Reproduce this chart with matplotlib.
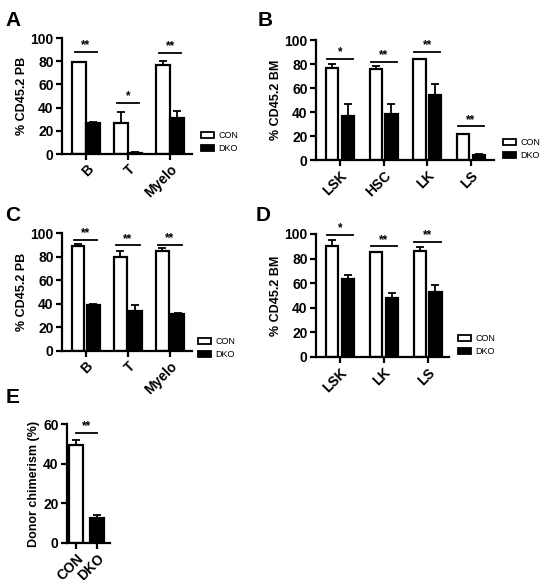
import matplotlib
matplotlib.use("Agg")
import matplotlib.pyplot as plt
from matplotlib.patches import Patch
import numpy as np

plt.rcParams["font.family"] = ["Liberation Sans", "DejaVu Sans"]

# panel A: % CD45.2 in peripheral blood
a_groups = ["B", "T", "Myelo"]
a_con = [79, 27, 77]
a_con_err = [0.5, 9, 3]
a_dko = [27, 1, 31]
a_dko_err = [0.5, 0.3, 6]
a_sig = ["**", "*", "**"]
a_sig_y = [88, 44, 87]

# panel B: % CD45.2 in bone marrow
b_groups = ["LSK", "HSC", "LK", "LS"]
b_con = [77, 76, 84, 21.5]
b_con_err = [3, 2, 0.5, 0.5]
b_dko = [36.5, 38, 54, 4.5]
b_dko_err = [10, 9, 9, 0.5]
b_sig = ["*", "**", "**", "**"]
b_sig_y = [84, 82, 90, 28]

# panel C: % CD45.2 PB (second transplant)
c_groups = ["B", "T", "Myelo"]
c_con = [89, 80, 84.5]
c_con_err = [1.5, 4.5, 2.5]
c_dko = [39, 33.5, 31]
c_dko_err = [0.8, 5.5, 1]
c_sig = ["**", "**", "**"]
c_sig_y = [94, 89.5, 90]

# panel D: % CD45.2 BM (second transplant)
d_groups = ["LSK", "LK", "LS"]
d_con = [90.5, 85, 86.5]
d_con_err = [4.5, 0.6, 3]
d_dko = [63.5, 48, 52.5]
d_dko_err = [3.5, 4, 6]
d_sig = ["*", "**", "**"]
d_sig_y = [99, 90, 93.5]

# panel E: donor chimerism
e_labels = ["CON", "DKO"]
e_vals = [49.5, 12.5]
e_err = [2.5, 1.5]

FS = 10
LW = 1.6


def style_axis(ax, ylabel, ymax, ystep):
    for s in ["top", "right"]:
        ax.spines[s].set_visible(False)
    for s in ["left", "bottom"]:
        ax.spines[s].set_linewidth(LW)
    ax.set_ylim(0, ymax)
    ax.set_yticks(np.arange(0, ymax + 1, ystep))
    ax.tick_params(width=LW, length=4, labelsize=FS, pad=2)
    for lab in ax.get_yticklabels():
        lab.set_fontweight("bold")
    ax.set_ylabel(ylabel, fontsize=9, fontweight="bold", labelpad=2)


def grouped(ax, groups, con, con_err, dko, dko_err, sig, sig_y, xlim,
            ylabel, w=0.3, off=0.18, half=0.3):
    x = np.arange(len(groups))
    ax.bar(x - off, con, w, color="white", edgecolor="black", linewidth=LW, zorder=2)
    ax.bar(x + off, dko, w, color="black", edgecolor="black", linewidth=LW, zorder=2)
    ax.errorbar(x - off, con, yerr=[np.zeros(len(x)), con_err], fmt="none",
                ecolor="black", elinewidth=1.3, capsize=3, capthick=1.3, zorder=3)
    ax.errorbar(x + off, dko, yerr=[np.zeros(len(x)), dko_err], fmt="none",
                ecolor="black", elinewidth=1.3, capsize=3, capthick=1.3, zorder=3)
    for xi, s, yy in zip(x, sig, sig_y):
        ax.plot([xi - half, xi + half], [yy, yy], color="black", lw=1.3, clip_on=False)
        ax.text(xi, yy + 0.5, s, ha="center", va="bottom", fontsize=8.5, fontweight="bold")
    ax.set_xlim(*xlim)
    ax.set_xticks(x)
    ax.set_xticklabels(groups, rotation=45, ha="right", rotation_mode="anchor",
                       fontsize=FS, fontweight="bold")
    style_axis(ax, ylabel, 100, 20)


def add_legend(fig, x, y):
    handles = [Patch(facecolor="white", edgecolor="black", linewidth=1.3, label="CON"),
               Patch(facecolor="black", edgecolor="black", linewidth=1.3, label="DKO")]
    fig.legend(handles=handles, loc="center left", bbox_to_anchor=(x, y),
               frameon=False, fontsize=6.5, handlelength=1.5, handleheight=0.6,
               handletextpad=0.5, labelspacing=0.45, borderpad=0)


fig = plt.figure(figsize=(5.52, 5.8), dpi=100)
W, H = 552, 580


def px_axes(l, t, r, b):
    return fig.add_axes([l / W, 1 - b / H, (r - l) / W, (b - t) / H])


axA = px_axes(62, 38, 192, 154)
grouped(axA, a_groups, a_con, a_con_err, a_dko, a_dko_err, a_sig, a_sig_y,
        (-0.57, 2.52), "% CD45.2 PB", w=0.34, off=0.17, half=0.26)
add_legend(fig, 196 / W, 1 - 142 / H)

axB = px_axes(316, 40, 494, 160)
grouped(axB, b_groups, b_con, b_con_err, b_dko, b_dko_err, b_sig, b_sig_y,
        (-0.55, 3.53), "% CD45.2 BM", w=0.28, off=0.18, half=0.3)
add_legend(fig, 498 / W, 1 - 149 / H)

axC = px_axes(62, 233, 192, 351)
grouped(axC, c_groups, c_con, c_con_err, c_dko, c_dko_err, c_sig, c_sig_y,
        (-0.56, 2.52), "% CD45.2 PB", w=0.3, off=0.18, half=0.28)
add_legend(fig, 193 / W, 1 - 348 / H)

axD = px_axes(316, 234, 449, 357)
grouped(axD, d_groups, d_con, d_con_err, d_dko, d_dko_err, d_sig, d_sig_y,
        (-0.55, 2.49), "% CD45.2 BM", w=0.28, off=0.18, half=0.3)
add_legend(fig, 453 / W, 1 - 345 / H)

axE = px_axes(67, 424, 110, 543)
xe = np.arange(len(e_labels))
axE.bar(xe, e_vals, 0.7, color=["white", "black"], edgecolor="black", linewidth=LW, zorder=2)
axE.errorbar(xe, e_vals, yerr=[np.zeros(2), e_err], fmt="none", ecolor="black",
             elinewidth=1.3, capsize=3, capthick=1.3, zorder=3)
axE.plot([0, 1], [55.7, 55.7], color="black", lw=1.3, clip_on=False)
axE.text(0.5, 56, "**", ha="center", va="bottom", fontsize=8.5, fontweight="bold")
axE.set_xlim(-0.43, 1.63)
axE.set_xticks(xe)
axE.set_xticklabels(e_labels, rotation=45, ha="right", rotation_mode="anchor",
                    fontsize=FS, fontweight="bold")
style_axis(axE, "Donor chimerism (%)", 60, 20)

for letter, x, y in [("A", 5, 11), ("B", 258, 11), ("C", 5, 206),
                     ("D", 256, 206), ("E", 6, 388)]:
    fig.text(x / W, 1 - y / H, letter, fontsize=15, fontweight="bold", va="top", ha="left")

fig.savefig("out.png", dpi=100)
